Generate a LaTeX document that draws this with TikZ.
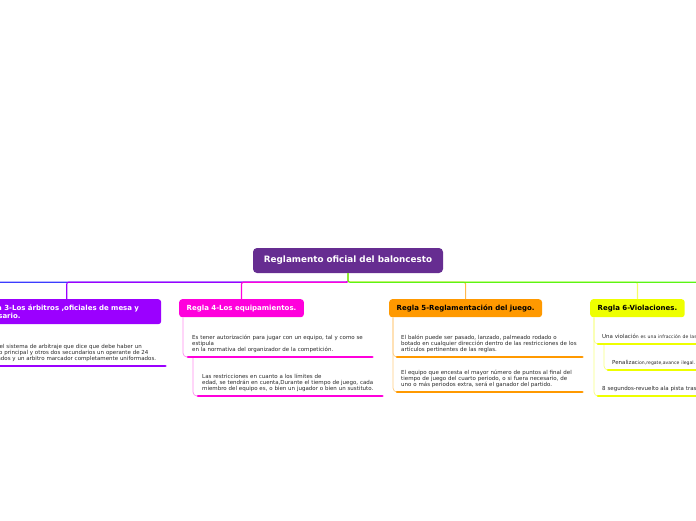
\documentclass[tikz,border=0pt]{standalone}
\usepackage{fontspec}
\setmainfont{DejaVu Sans}
\usepackage{xcolor}
\definecolor{mmpurple}{RGB}{102,45,145}
\definecolor{mmviolet}{RGB}{155,0,255}
\definecolor{mmmagenta}{RGB}{255,0,220}
\definecolor{mmorange}{RGB}{255,153,0}
\definecolor{mmyellow}{RGB}{238,255,0}
\definecolor{mmblue}{RGB}{60,60,255}
\definecolor{mmgreen}{RGB}{90,245,20}
\definecolor{mmtext}{RGB}{40,40,40}
\usetikzlibrary{calc,positioning}

\begin{document}
\begin{tikzpicture}[x=1pt,y=-1pt,
  rulebox/.style={rounded corners=3pt, inner xsep=7.5pt, inner ysep=0pt, minimum height=18pt, font=\fontsize{7}{8.5}\selectfont\bfseries, align=left, anchor=north west},
  notetext/.style={inner xsep=4pt, inner ysep=4pt, font=\fontsize{5.5}{6.3}\selectfont, text=mmtext, align=left, anchor=south west},
  bar/.style={line width=1.1pt, rounded corners=2pt},
  twig/.style={line width=0.7pt, rounded corners=4pt},
  uline/.style={line width=2.6pt, line cap=round}]
  \useasboundingbox (0,0) rectangle (696,520);
  \clip (0,0) rectangle (696,520);

  \node[fill=mmpurple, rounded corners=4pt, minimum width=190pt, minimum height=25pt, text=white, font=\fontsize{8.8}{10}\selectfont\bfseries] (main) at (348,260.5) {Reglamento oficial del baloncesto};

  \node[rulebox, fill=mmviolet, text=white, text width=174pt, minimum height=25pt] (r3) at (-28,299) {Regla 3-Los árbitros ,oficiales de mesa y\\comisario.};
  \node[rulebox, fill=mmmagenta, text=white] (r4) at (179,299) {Regla 4-Los equipamientos.};
  \node[rulebox, fill=mmorange, text=black] (r5) at (389,299) {Regla 5-Reglamentación del juego.};
  \node[rulebox, fill=mmyellow, text=black] (r6) at (590,299) {Regla 6-Violaciones.};
  \coordinate (r2) at (-120,299);
  \coordinate (r7) at (800,299);

  \draw[bar, mmblue] (main.south) -- ++(0,9) -| (r2);
  \draw[bar, mmviolet] (main.south) -- ++(0,9) -| (r3.north);
  \draw[bar, mmmagenta] (main.south) -- ++(0,9) -| (r4.north);
  \draw[bar, mmorange!70] (main.south) -- ++(0,9) -| (r5.north);
  \draw[bar, mmyellow!60] (main.south) -- ++(0,9) -| (r6.north);
  \draw[bar, mmgreen] (main.south) -- ++(0,9) -| (r7);

  \node[notetext, text width=177pt] (c31) at (-20,366) {Trata el sistema de arbitraje que dice que debe haber un\\árbitro principal y otros dos secundarios un operante de 24\\segundos y un arbitro marcador completamente uniformados.};
  \draw[twig, mmviolet!45] ($(r3.south west)+(4,0)$) |- (c31.south west);
  \draw[uline, mmviolet] (c31.south west) -- (c31.south east);

  \node[notetext, text width=176pt] (c41) at (188,357) {Es tener autorización para jugar con un equipo, tal y como se\\estipula\\en la normativa del organizador de la competición.};
  \node[notetext, text width=176pt] (c42) at (198,396) {Las restricciones en cuanto a los límites de\\edad, se tendrán en cuenta,Durante el tiempo de juego, cada\\miembro del equipo es, o bien un jugador o bien un sustituto.};
  \draw[twig, mmmagenta!45] ($(r4.south west)+(4,0)$) |- (c41.south west);
  \draw[twig, mmmagenta!45] ($(c41.south west)+(5,0)$) |- (c42.south west);
  \draw[uline, mmmagenta] (c41.south west) -- (c41.south east);
  \draw[uline, mmmagenta] (c42.south west) -- (c42.south east);

  \node[notetext, text width=177pt] (c51) at (397,357) {El balón puede ser pasado, lanzado, palmeado rodado o\\botado en cualquier dirección dentro de las restricciones de los\\artículos pertinentes de las reglas.};
  \node[notetext, text width=177pt] (c52) at (397,392) {El equipo que encesta el mayor número de puntos al final del\\tiempo de juego del cuarto periodo, o si fuera necesario, de\\uno o más periodos extra, será el ganador del partido.};
  \draw[twig, mmorange!50] ($(r5.south west)+(4,0)$) |- (c51.south west);
  \draw[twig, mmorange!50] ($(r5.south west)+(4,0)$) |- (c52.south west);
  \draw[uline, mmorange] (c51.south west) -- (c51.south east);
  \draw[uline, mmorange] (c52.south west) -- (c52.south east);

  \node[notetext, text width=200pt] (c61) at (598,344) {Una violació\raisebox{-0.6pt}{\fontsize{4.6}{5}\selectfont n es una infracción de las reglas.}};
  \node[notetext, text width=200pt] (c62) at (608,370) {Penalizac\raisebox{-0.6pt}{\fontsize{4.6}{5}\selectfont ion,regate,avance ilegal.}};
  \node[notetext, text width=200pt] (c63) at (598,396) {8 segundos-revuelto ala pista trasera.};
  \draw[twig, mmyellow!50] ($(r6.south west)+(4,0)$) |- (c61.south west);
  \draw[twig, mmyellow!50] ($(r6.south west)+(4,0)$) |- (c63.south west);
  \draw[twig, mmyellow!50] ($(c61.south west)+(6,0)$) |- (c62.south west);
  \draw[uline, mmyellow] (c61.south west) -- (c61.south east);
  \draw[uline, mmyellow] (c62.south west) -- (c62.south east);
  \draw[uline, mmyellow] (c63.south west) -- (c63.south east);
\end{tikzpicture}
\end{document}
